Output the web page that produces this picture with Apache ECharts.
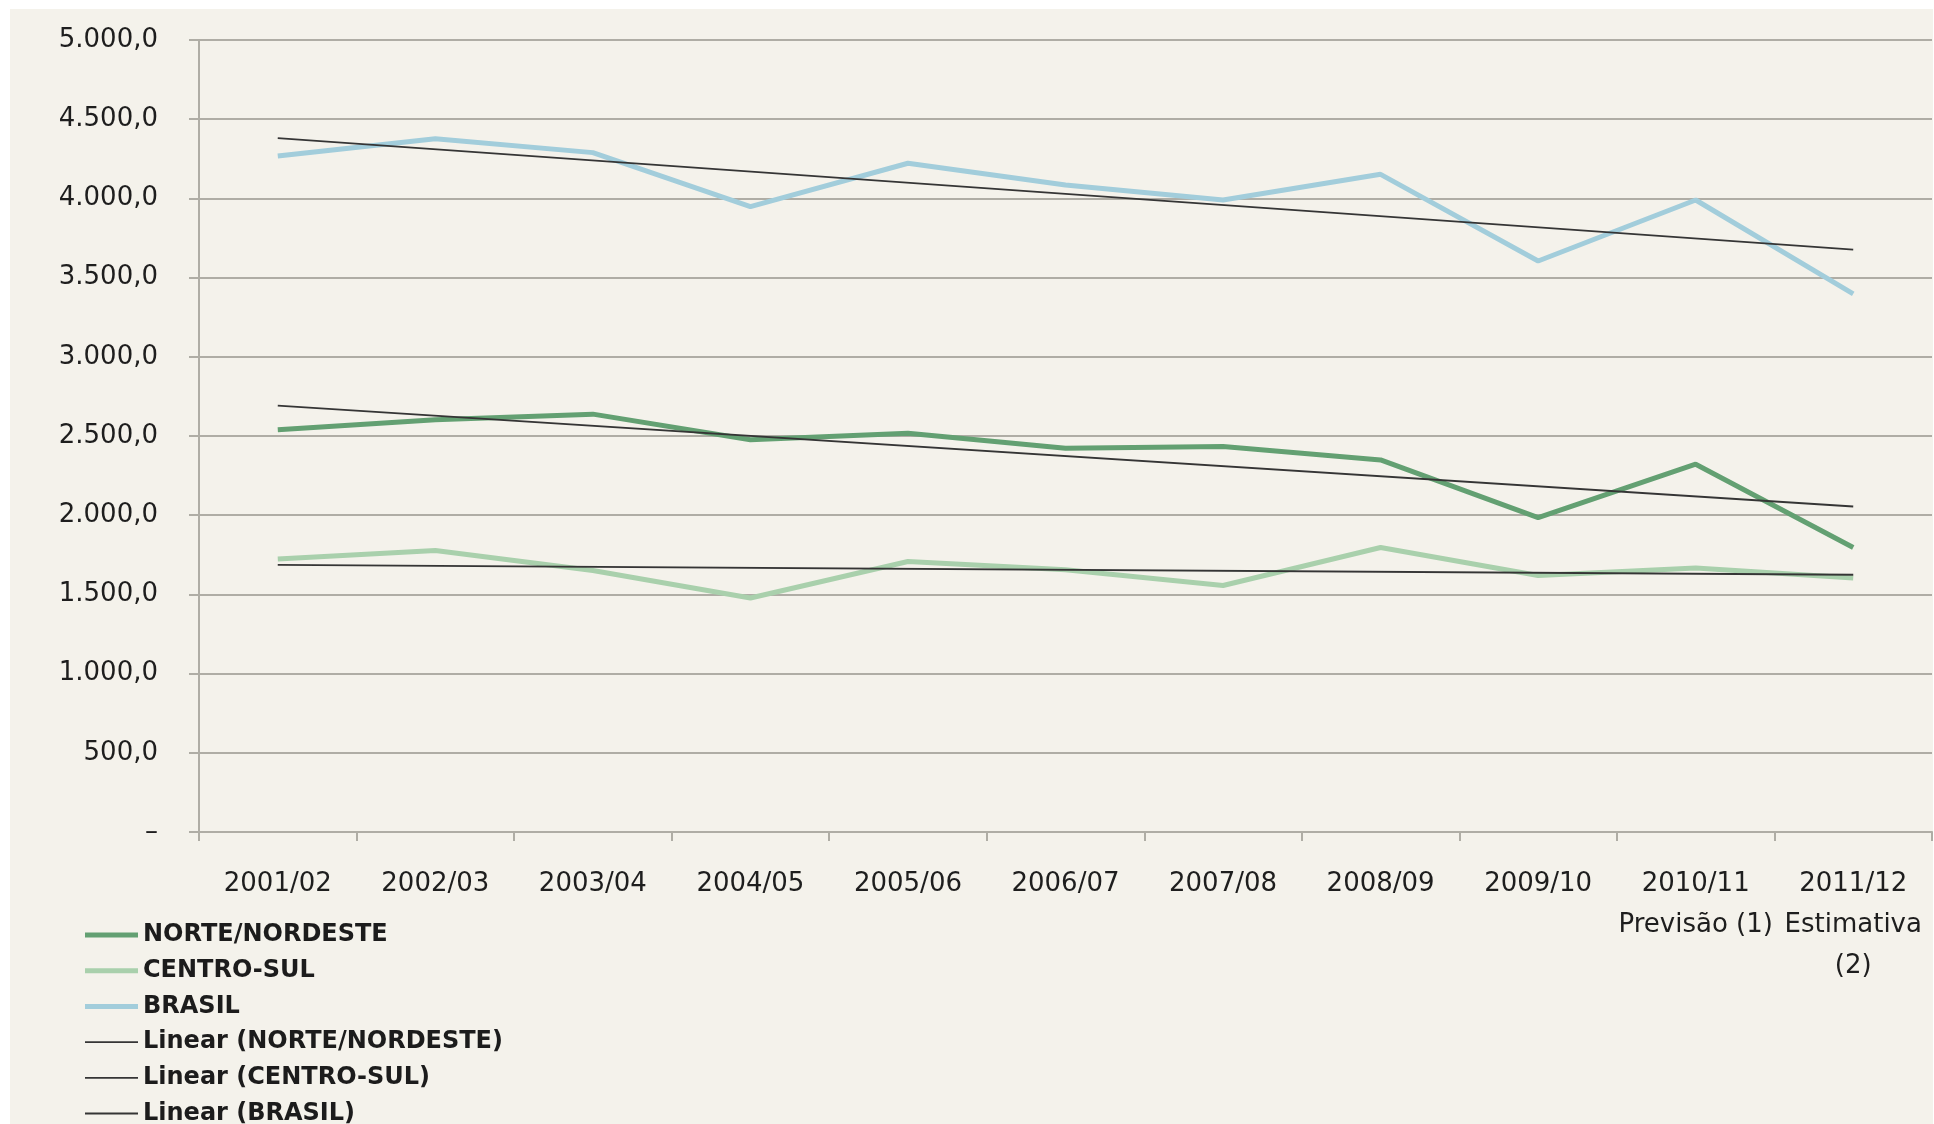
<!DOCTYPE html>
<html>
<head>
<meta charset="utf-8">
<script src="https://cdn.jsdelivr.net/npm/echarts@6/dist/echarts.min.js"></script>
<style>
	html, body { margin: 0; padding: 0; background: #fff; overflow: hidden; }
	.fundo {
		position: absolute;
		left: 10px;
		top: 9px;
		width: 1923px;
		height: 1115px;
		background: #f4f2eb;
	}
	#chart {
		position: absolute;
		left: 0;
		top: 0;
		width: 1934px;
		height: 1160px;
	}
</style>
</head>
<body>
<div class="fundo"></div>
<div id="chart"></div>
<script>
	// safras 2001/02 - 2011/12
	var categories = ['2001/02', '2002/03', '2003/04', '2004/05', '2005/06', '2006/07',
		'2007/08', '2008/09', '2009/10', '2010/11\nPrevisão (1)', '2011/12\nEstimativa\n(2)'];
	var norteNordeste = [2539, 2602, 2638, 2476, 2518, 2423, 2433, 2349, 1985, 2322, 1796];
	var centroSul = [1723, 1777, 1651, 1477, 1708, 1655, 1556, 1796, 1619, 1666, 1603];
	var brasil = [4268, 4377, 4289, 3948, 4222, 4085, 3990, 4152, 3605, 3990, 3397];
	// linhas de tendencia (inicio, fim)
	var trendNorteNordeste = [2692, 2055];
	var trendCentroSul = [1687, 1624];
	var trendBrasil = [4380, 3677];
	var yTicks = [0, 500, 1000, 1500, 2000, 2500, 3000, 3500, 4000, 4500, 5000];

	var font = 'DejaVu Sans';
	var gridColor = '#afada5';
	var trendColor = '#353535';
	var last = categories.length - 1;
	var thickIcon = 'path://M0,0H53V5H0Z';
	var thinIcon = 'path://M0,0H53V1.8H0Z';

	function fmt(v) {
		if (v === 0) return '–';
		var s = String(Math.round(v));
		s = s.replace(/\B(?=(\d{3})+(?!\d))/g, '.');
		return s + ',0';
	}

	function serie(name, color, values) {
		return {
			name: name, type: 'line', symbol: 'none', z: 3,
			lineStyle: { color: color, width: 5 },
			itemStyle: { color: color },
			data: values
		};
	}

	function trend(name, ends) {
		return {
			name: name,
			type: 'line',
			symbol: 'none',
			z: 5,
			lineStyle: { color: trendColor, width: 1.8 },
			itemStyle: { color: trendColor },
			data: [[0, ends[0]], [last, ends[1]]]
		};
	}

	var myChart = echarts.init(document.getElementById('chart'));
	var option = {
		animation: false,
		textStyle: { fontFamily: font },
		grid: { left: 199, right: 2, top: 40, bottom: 328, containLabel: false },
		legend: {
			orient: 'vertical',
			left: 85,
			top: 923,
			padding: 0,
			itemWidth: 53,
			itemHeight: 14,
			itemGap: 11.7,
			textStyle: { fontFamily: font, fontSize: 24, fontWeight: 'bold', color: '#1c1c1c', lineHeight: 24 },
			data: [
				{ name: 'NORTE/NORDESTE', icon: thickIcon },
				{ name: 'CENTRO-SUL', icon: thickIcon },
				{ name: 'BRASIL', icon: thickIcon },
				{ name: 'Linear (NORTE/NORDESTE)', icon: thinIcon },
				{ name: 'Linear (CENTRO-SUL)', icon: thinIcon },
				{ name: 'Linear (BRASIL)', icon: thinIcon }
			]
		},
		xAxis: {
			type: 'category',
			data: categories,
			boundaryGap: true,
			axisLine: { lineStyle: { color: gridColor, width: 2 } },
			axisTick: { show: true, length: 9, lineStyle: { color: gridColor, width: 2 } },
			axisLabel: { color: '#1e1e1e', fontSize: 26, lineHeight: 41, margin: 32, interval: 0, fontFamily: font }
		},
		yAxis: {
			type: 'value',
			min: yTicks[0],
			max: yTicks[yTicks.length - 1],
			interval: 500,
			axisLine: { show: true, lineStyle: { color: gridColor, width: 2 } },
			axisTick: { show: true, length: 10, lineStyle: { color: gridColor, width: 2 } },
			splitLine: { lineStyle: { color: gridColor, width: 2 } },
			axisLabel: { color: '#1e1e1e', fontSize: 26, margin: 41, fontFamily: font, formatter: fmt }
		},
		series: [
			serie('NORTE/NORDESTE', '#63a072', norteNordeste),
			serie('CENTRO-SUL', '#a9d0ac', centroSul),
			serie('BRASIL', '#a2cddb', brasil),
			trend('Linear (NORTE/NORDESTE)', trendNorteNordeste),
			trend('Linear (CENTRO-SUL)', trendCentroSul),
			trend('Linear (BRASIL)', trendBrasil)
		]
	};
	myChart.setOption(option);
</script>
</body>
</html>
